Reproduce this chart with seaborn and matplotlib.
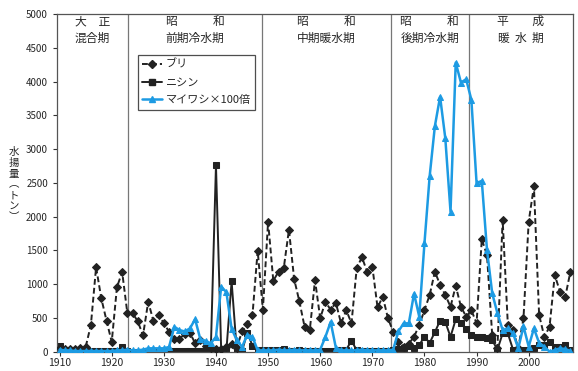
import numpy as np
import pandas as pd
import matplotlib
matplotlib.use("Agg")
import matplotlib.pyplot as plt
from matplotlib.lines import Line2D
import seaborn as sns

# data (tons), one value per year 1910-2008
years = list(range(1910, 2009))

buri = [60, 40, 40, 40, 60, 70, 395, 1250, 790, 460,
        145, 955, 1180, 570, 570, 450, 240, 740, 455, 540,
        420, 296, 190, 190, 265, 280, 125, 180, 90, 50,
        40, 40, 75, 120, 60, 300, 410, 540, 1495, 620,
        1925, 1050, 1185, 1235, 1805, 1075, 745, 370, 320, 1060,
        495, 740, 620, 725, 420, 615, 420, 1235, 1400, 1185,
        1260, 655, 815, 495, 295, 150, 75, 120, 220, 395,
        615, 840, 1185, 990, 840, 665, 975, 665, 520, 615,
        420, 1665, 1430, 245, 60, 1950, 400, 320, 50, 495,
        1925, 2450, 545, 220, 370, 1135, 890, 805, 1185]

nishin = [80, 15, 20, 20, 10, 5, 5, 5, 5, 10,
          10, 10, 70, 10, 0, 0, 0, 5, 5, 5,
          5, 5, 5, 5, 5, 5, 5, 5, 5, 10,
          2760, 20, 20, 1040, 10, 10, 280, 90, 20, 20,
          30, 20, 20, 40, 10, 10, 30, 10, 10, 10,
          10, 10, 10, 10, 30, 30, 165, 20, 10, 10,
          10, 10, 10, 10, 20, 40, 60, 90, 50, 100,
          220, 130, 290, 460, 440, 220, 480, 420, 330, 250,
          220, 220, 200, 170, 30, 270, 270, 30, 30, 30,
          30, 60, 100, 100, 150, 75, 75, 100, 25]

maiwashi_x100 = [30, 20, 20, 10, 10, 10, 10, 10, 10, 10,
                 10, 20, 20, 30, 20, 20, 30, 50, 50, 50,
                 50, 70, 370, 320, 300, 345, 480, 185, 160, 125,
                 220, 965, 880, 340, 170, 70, 250, 220, 20, 20,
                 20, 20, 30, 20, 20, 30, 20, 20, 20, 20,
                 30, 220, 440, 60, 20, 20, 20, 20, 30, 20,
                 20, 20, 20, 20, 30, 300, 420, 420, 860, 520,
                 1605, 2600, 3340, 3775, 3160, 2075, 4280, 3985, 4035, 3730,
                 2495, 2530, 1505, 865, 570, 320, 345, 270, 50, 375,
                 75, 345, 130, 75, 0, 25, 50, 40, 10]

# period boundaries and labels
period_bounds = [1923.1, 1948.9, 1973.5, 1988.5]
period_labels = [("大　正", "混合期"),
                 ("昭　　　和", "前期冷水期"),
                 ("昭　　　和", "中期暖水期"),
                 ("昭　　　和", "後期冷水期"),
                 ("平　　成", "暖  水  期")]

ylabel_chars = ["水", "揚", "量", "︵", "ト", "ン", "︶"]

df = pd.DataFrame({"year": years, "ブリ": buri, "ニシン": nishin,
                   "マイワシ×100倍": maiwashi_x100})

sns.set_style("ticks")
plt.rcParams["font.family"] = ["Noto Sans CJK JP", "DejaVu Sans"]

fig = plt.figure(figsize=(5.78, 3.71), dpi=100)
ax = fig.add_axes([57 / 578, 19.3 / 371, 516 / 578, 337.7 / 371])

blue = "#1d9be3"
sns.lineplot(data=df, x="year", y="ブリ", ax=ax, color="#222222", linestyle=(0, (3, 1.6)),
             linewidth=1.4, marker="D", markersize=4, markeredgecolor="#222222", zorder=3)
sns.lineplot(data=df, x="year", y="ニシン", ax=ax, color="#222222", linewidth=1.4,
             marker="s", markersize=4.5, markeredgecolor="#222222", zorder=2)
sns.lineplot(data=df, x="year", y="マイワシ×100倍", ax=ax, color=blue, linewidth=1.8,
             marker="^", markersize=4.5, markeredgecolor=blue, zorder=4)

ax.set_xlim(1909.5, 2008.5)
ax.set_ylim(0, 5000)
ax.set_yticks(range(0, 5001, 500))
ax.set_xticks(range(1910, 2001, 10))
ax.tick_params(axis="both", labelsize=7, length=3, width=0.8, color="#333333")
ax.tick_params(axis="x", labelsize=7.5, pad=1.5)
ax.set_xlabel("")
ax.set_ylabel("")
for s in ax.spines.values():
    s.set_visible(True)
    s.set_color("#555555")
    s.set_linewidth(0.9)

for b in period_bounds:
    ax.axvline(b, color="#777777", linewidth=0.9, zorder=1)

edges = [1909.5] + period_bounds + [2008.5]
for i, (top, bottom) in enumerate(period_labels):
    cx = (edges[i] + edges[i + 1]) / 2
    ax.text(cx, 4886, top, ha="center", va="center", fontsize=8.5)
    ax.text(cx, 4640, bottom, ha="center", va="center", fontsize=8.5)

# vertical y-axis label, one character per line
for i, ch in enumerate(ylabel_chars):
    fig.text(14 / 578, 1 - (152 + i * 10.8) / 371, ch, ha="center", va="center", fontsize=7.5)

handles = [Line2D([], [], color="#222222", linestyle=(0, (3, 1.6)), marker="D", markersize=4, lw=1.4),
           Line2D([], [], color="#222222", marker="s", markersize=4.5, lw=1.4),
           Line2D([], [], color=blue, marker="^", markersize=4.5, lw=1.8)]
leg = ax.legend(handles, ["ブリ", "ニシン", "マイワシ×100倍"], loc="upper left",
                bbox_to_anchor=(138 / 578, 1 - 55 / 371), bbox_transform=fig.transFigure,
                borderaxespad=0, frameon=True, fancybox=False, fontsize=8,
                handlelength=1.8, handletextpad=0.3, labelspacing=0.7, borderpad=0.4)
leg.get_frame().set_edgecolor("#222222")
leg.get_frame().set_linewidth(0.9)

fig.savefig("out.png", dpi=100)
